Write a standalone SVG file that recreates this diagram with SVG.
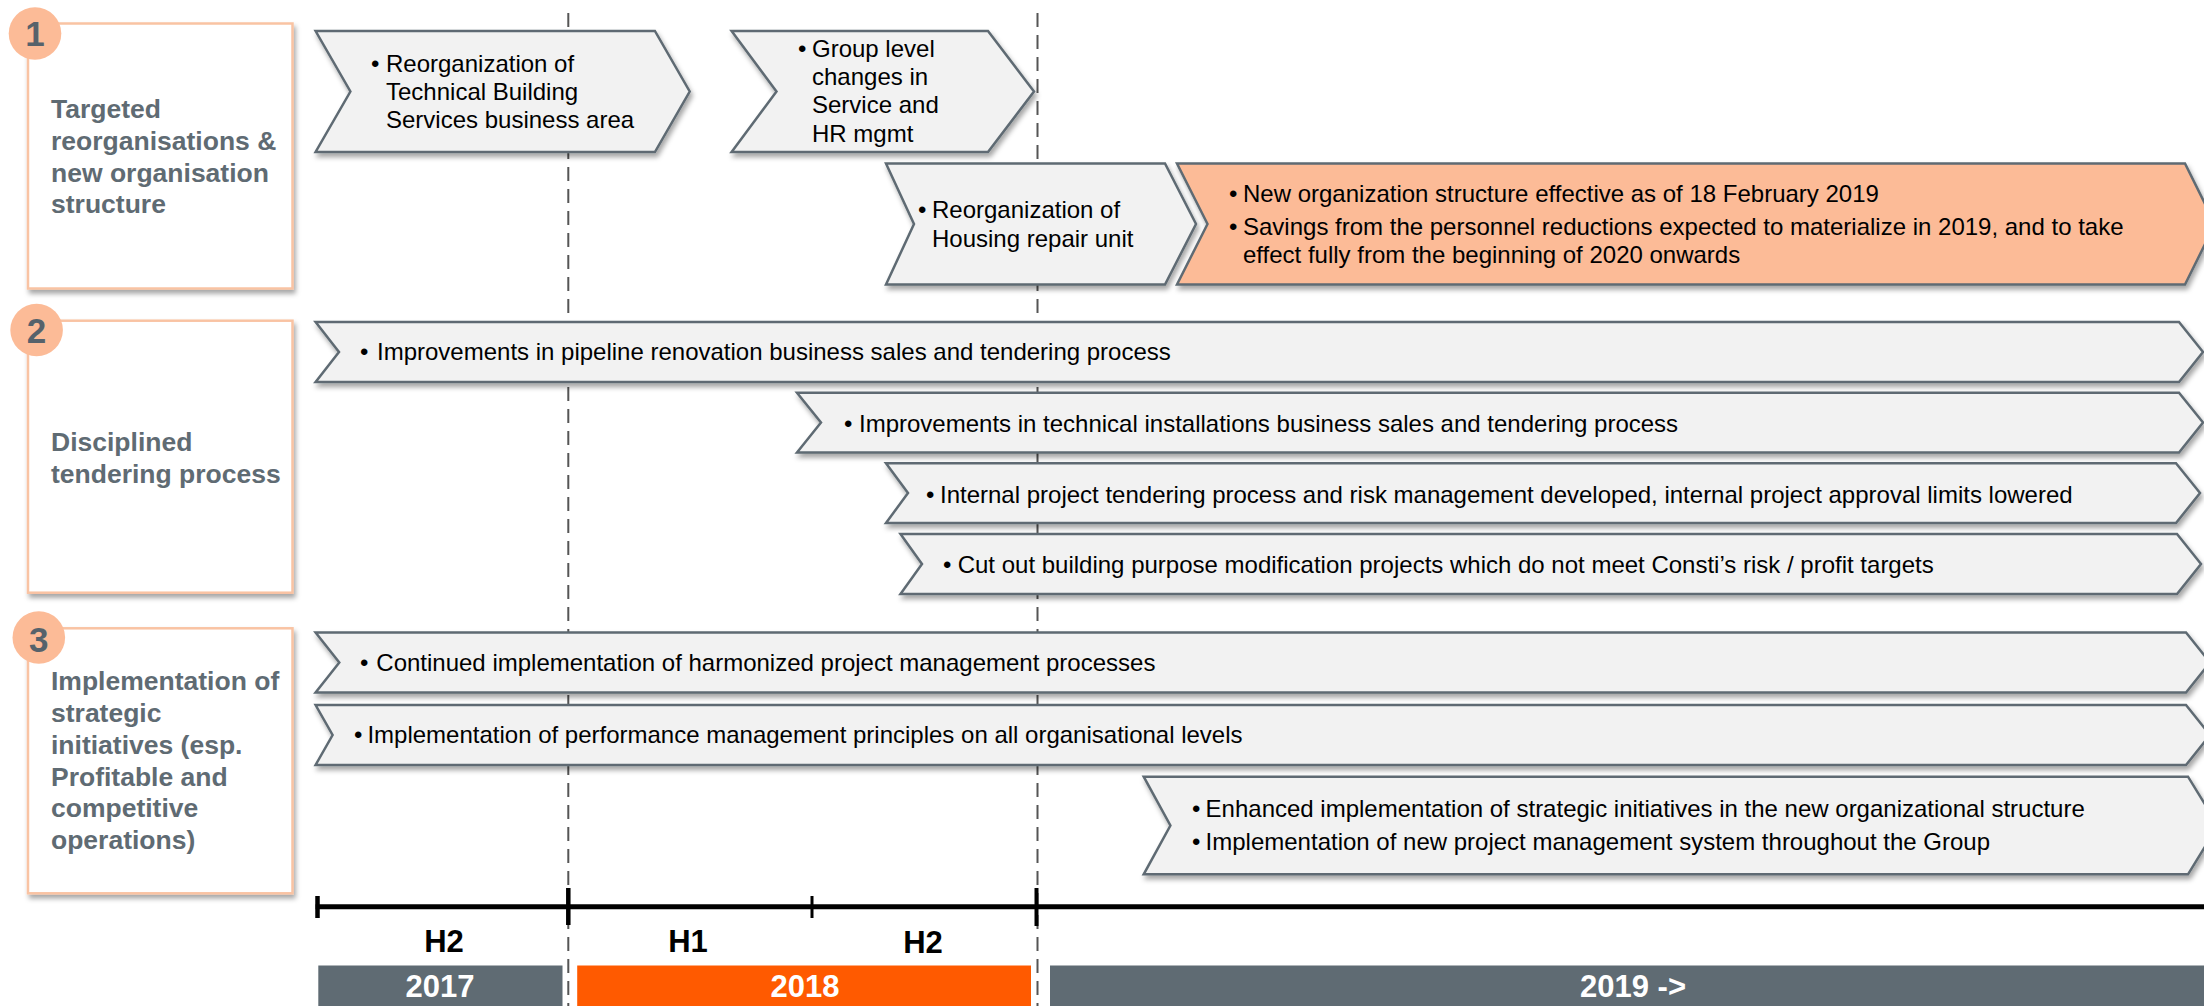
<svg xmlns="http://www.w3.org/2000/svg" width="2204" height="1006" viewBox="0 0 2204 1006">
<defs>
<filter id="sh" x="-5%" y="-20%" width="110%" height="150%">
<feDropShadow dx="2" dy="4" stdDeviation="2.5" flood-color="#000" flood-opacity="0.35"/>
</filter>
<style>
.chev{fill:#F2F2F2;stroke:#5E6B73;stroke-width:2.5;stroke-linejoin:miter;filter:url(#sh)}
.chevo{fill:#FCBB97;stroke:#5E6B73;stroke-width:2.5;filter:url(#sh)}
.box{fill:#fff;stroke:#F9C3A3;stroke-width:2.5;filter:url(#sh)}
.num{fill:#FCBB97}
.numt{font-family:"Liberation Sans",Arial,sans-serif;font-weight:bold;font-size:35px;fill:#56626B;text-anchor:middle}
.lt{font-family:"Liberation Sans",Arial,sans-serif;font-weight:bold;font-size:26.5px;fill:#5F6B73}
.t{font-family:"Liberation Sans",Arial,sans-serif;font-size:24px;fill:#000}
.hl{font-family:"Liberation Sans",Arial,sans-serif;font-weight:bold;font-size:31px;fill:#000;text-anchor:middle}
.yr{font-family:"Liberation Sans",Arial,sans-serif;font-weight:bold;font-size:31px;fill:#fff;text-anchor:middle}
.hdash{stroke:#6B6B6B;stroke-width:3;stroke-dasharray:9 6;fill:none;filter:url(#sh)}
.vdash{stroke:#555;stroke-width:2;stroke-dasharray:14 8;fill:none}
.ax{stroke:#000;fill:none}
</style>
</defs>
<rect width="2204" height="1006" fill="#fff"/>

<g id="connectors">
<line class="hdash" x1="312" y1="299.5" x2="2204" y2="299.5"/>
<line class="hdash" x1="312" y1="607.3" x2="2204" y2="607.3"/>
<line class="vdash" x1="568.3" y1="13" x2="568.3" y2="1006"/>
<line class="vdash" x1="1037.5" y1="13" x2="1037.5" y2="1006"/>
</g>

<g id="section1-label">
<rect class="box" x="28" y="23.5" width="264.5" height="265"/>
<circle class="num" cx="35" cy="33.5" r="26.3"/>
<text class="numt" x="35" y="46">1</text>
<text class="lt" x="51" y="118.3">Targeted</text>
<text class="lt" x="51" y="150">reorganisations &amp;</text>
<text class="lt" x="51" y="181.7">new organisation</text>
<text class="lt" x="51" y="213.3">structure</text>
</g>

<g id="section2-label">
<rect class="box" x="28" y="320.7" width="264.5" height="272"/>
<circle class="num" cx="36.6" cy="330" r="26.3"/>
<text class="numt" x="36.6" y="343.3">2</text>
<text class="lt" x="51" y="450.7">Disciplined</text>
<text class="lt" x="51" y="482.7">tendering process</text>
</g>

<g id="section3-label">
<rect class="box" x="28" y="628.3" width="264.5" height="265"/>
<circle class="num" cx="38.8" cy="637.5" r="26.3"/>
<text class="numt" x="38.8" y="651.7">3</text>
<text class="lt" x="51" y="690">Implementation of</text>
<text class="lt" x="51" y="721.7">strategic</text>
<text class="lt" x="51" y="753.7">initiatives (esp.</text>
<text class="lt" x="51" y="785.7">Profitable and</text>
<text class="lt" x="51" y="817.3">competitive</text>
<text class="lt" x="51" y="849.3">operations)</text>
</g>

<g id="chev-tbs">
<path class="chev" d="M315.6,31 L654.9,31 L689.7,91.5 L654.9,152 L315.6,152 L350.4,91.5 Z"/>
<text class="t" x="371" y="71.7">•</text>
<text class="t" x="386" y="71.7">Reorganization of</text>
<text class="t" x="386" y="100">Technical Building</text>
<text class="t" x="386" y="128.3">Services business area</text>
</g>

<g id="chev-group">
<path class="chev" d="M731.6,31 L988,31 L1034,91.5 L988,152 L731.6,152 L776.5,91.5 Z"/>
<text class="t" x="798" y="56.7">•</text>
<text class="t" x="812" y="56.7">Group level</text>
<text class="t" x="812" y="85">changes in</text>
<text class="t" x="812" y="113.3">Service and</text>
<text class="t" x="812" y="141.7">HR mgmt</text>
</g>

<g id="chev-housing">
<path class="chev" d="M886,163.5 L1165,163.5 L1196,224 L1165,284.5 L886,284.5 L914,224 Z"/>
<text class="t" x="918" y="218.3">•</text>
<text class="t" x="932" y="218.3">Reorganization of</text>
<text class="t" x="932" y="246.7">Housing repair unit</text>
</g>

<g id="chev-neworg">
<path class="chevo" d="M1177,163.5 L2185,163.5 L2215,224 L2185,284.5 L1177,284.5 L1207.5,224 Z"/>
<text class="t" x="1229" y="201.7">•</text>
<text class="t" x="1243" y="201.7">New organization structure effective as of 18 February 2019</text>
<text class="t" x="1229" y="235">•</text>
<text class="t" x="1243" y="235">Savings from the personnel reductions expected to materialize in 2019, and to take</text>
<text class="t" x="1243" y="263.3">effect fully from the beginning of 2020 onwards</text>
</g>

<g id="chev-pipeline">
<path class="chev" d="M315.6,322 L2179,322 L2203,352 L2179,382 L315.6,382 L339,352 Z"/>
<text class="t" x="360" y="360">•</text>
<text class="t" x="377" y="360">Improvements in pipeline renovation business sales and tendering process</text>
</g>

<g id="chev-technical">
<path class="chev" d="M797,392.7 L2179,392.7 L2203,422.5 L2179,452.5 L797,452.5 L821,422.5 Z"/>
<text class="t" x="844" y="431.7">•</text>
<text class="t" x="859" y="431.7">Improvements in technical installations business sales and tendering process</text>
</g>

<g id="chev-internal">
<path class="chev" d="M886,463.3 L2176,463.3 L2200,493 L2176,523 L886,523 L908,493 Z"/>
<text class="t" x="926" y="502.7">•</text>
<text class="t" x="940" y="502.7">Internal project tendering process and risk management developed, internal project approval limits lowered</text>
</g>

<g id="chev-cutout">
<path class="chev" d="M900.5,534 L2177,534 L2201,564 L2177,594 L900.5,594 L922,564 Z"/>
<text class="t" x="943" y="573.3">•</text>
<text class="t" x="957.7" y="573.3">Cut out building purpose modification projects which do not meet Consti’s risk / profit targets</text>
</g>

<g id="chev-harmonized">
<path class="chev" d="M315.6,632.5 L2186,632.5 L2210,662.5 L2186,692.5 L315.6,692.5 L339.3,662.5 Z"/>
<text class="t" x="360" y="671">•</text>
<text class="t" x="376.3" y="671">Continued implementation of harmonized project management processes</text>
</g>

<g id="chev-performance">
<path class="chev" d="M315.6,705 L2186,705 L2210,735 L2186,765 L315.6,765 L332.6,735 Z"/>
<text class="t" x="354" y="743.3">•</text>
<text class="t" x="367.4" y="743.3">Implementation of performance management principles on all organisational levels</text>
</g>

<g id="chev-enhanced">
<path class="chev" d="M1143.7,776.7 L2188,776.7 L2218,825.5 L2188,874.3 L1143.7,874.3 L1170.4,825.5 Z"/>
<text class="t" x="1192" y="816.7">•</text>
<text class="t" x="1205.6" y="816.7">Enhanced implementation of strategic initiatives in the new organizational structure</text>
<text class="t" x="1192" y="850">•</text>
<text class="t" x="1205.6" y="850">Implementation of new project management system throughout the Group</text>
</g>

<g id="timeline">
<line class="ax" x1="315.6" y1="906.7" x2="2204" y2="906.7" stroke-width="5"/>
<line class="ax" x1="317.5" y1="896" x2="317.5" y2="918" stroke-width="4.5"/>
<line class="ax" x1="568.3" y1="888" x2="568.3" y2="925" stroke-width="4.5"/>
<line class="ax" x1="812" y1="896" x2="812" y2="918" stroke-width="3"/>
<line class="ax" x1="1036.5" y1="888" x2="1036.5" y2="926" stroke-width="4"/>
<text class="hl" x="444" y="951.7">H2</text>
<text class="hl" x="688" y="952.3">H1</text>
<text class="hl" x="923" y="953.3">H2</text>
</g>

<g id="year-2017">
<rect x="318.3" y="965.5" width="244.2" height="40.5" fill="#5F6B73"/>
<text class="yr" x="440" y="996.7">2017</text>
</g>
<g id="year-2018">
<rect x="577.2" y="965.5" width="453.8" height="40.5" fill="#FF5A00"/>
<text class="yr" x="805" y="996.7">2018</text>
</g>
<g id="year-2019">
<rect x="1050" y="965.5" width="1154" height="40.5" fill="#5F6B73"/>
<text class="yr" x="1633" y="996.7">2019 -&gt;</text>
</g>
</svg>
